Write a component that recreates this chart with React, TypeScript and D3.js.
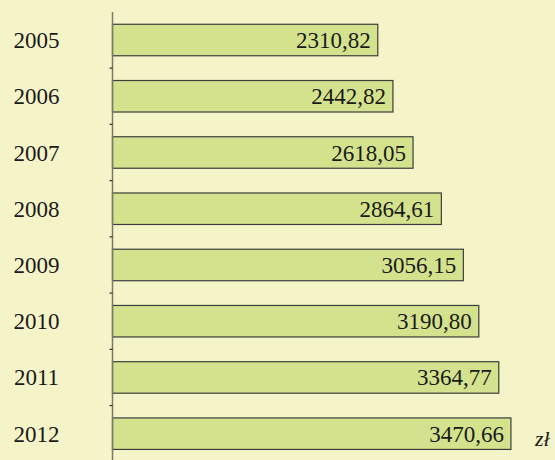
import React from "react";
import * as d3 from "d3";

const years = ["2005", "2006", "2007", "2008", "2009", "2010", "2011", "2012"];
const values = [2310.82, 2442.82, 2618.05, 2864.61, 3056.15, 3190.8, 3364.77, 3470.66];
const unitLabel = "zł";

const W = 555;
const H = 460;

export default function App() {
  const x = d3.scaleLinear().domain([0, 4000]).range([112.5, 112.5 + 459.2]);
  const y = d3.scaleBand<string>().domain(years).range([11.9, 461.8]).paddingInner(0.44).paddingOuter(0.22);
  const fmt = (v: number) => v.toFixed(2).replace(".", ",");
  const step = y.step();
  const ticks = years.slice(1).map((yr) => (y(yr) as number) - (step - y.bandwidth()) / 2);

  return (
    <svg
      width={W}
      height={H}
      style={{ position: "fixed", left: 0, top: 0, display: "block" }}
      fontFamily="'Liberation Serif', 'Times New Roman', serif"
    >
      <rect x={0} y={0} width={W} height={H} fill="#F5F4C9" />
      {years.map((yr, i) => {
        const by = y(yr) as number;
        const bh = y.bandwidth();
        const x0 = x(0);
        const x1 = x(values[i]);
        return (
          <g key={yr}>
            <rect x={x0} y={by} width={x1 - x0} height={bh} fill="#D4E28D" stroke="#3d3d3d" strokeWidth={1.2} />
            <text x={x1 - 7} y={by + bh / 2} dy="0.35em" textAnchor="end" fontSize={23} fill="#1a1a1a">
              {fmt(values[i])}
            </text>
            <text x={36.5} y={by + bh / 2} dy="0.35em" textAnchor="middle" fontSize={23} fill="#1a1a1a">
              {yr}
            </text>
          </g>
        );
      })}
      <line x1={112.5} x2={112.5} y1={12} y2={H} stroke="#7a7a6a" strokeWidth={1.5} />
      {ticks.map((t, i) => (
        <line key={i} x1={109.5} x2={112.5} y1={t} y2={t} stroke="#333" strokeWidth={1.2} />
      ))}
      <text x={535} y={446} fontSize={22} fontStyle="italic" fill="#1a1a1a">
        {unitLabel}
      </text>
    </svg>
  );
}
